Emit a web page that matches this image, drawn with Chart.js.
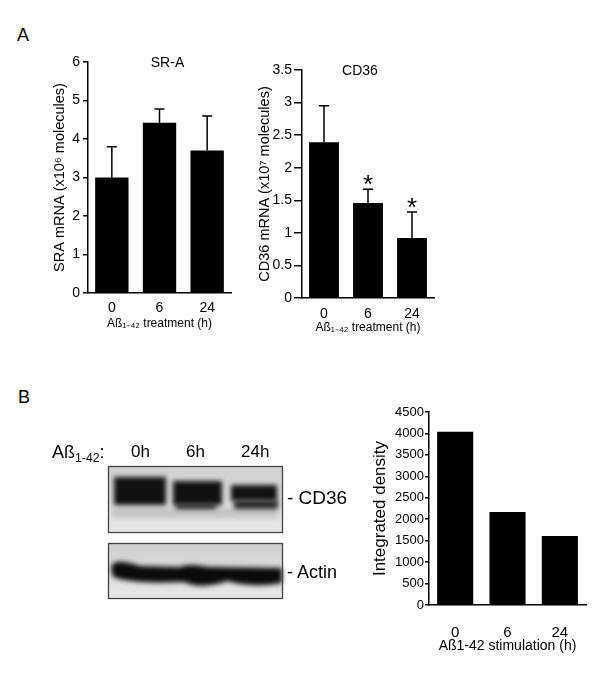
<!DOCTYPE html>
<html>
<head>
<meta charset="utf-8">
<script src="https://cdn.jsdelivr.net/npm/chart.js@4"></script>
<style>
  body { margin: 0; background: #fff; font-family: "Liberation Sans", Arial, sans-serif; }
  #page { position: relative; width: 600px; height: 673px; overflow: hidden; }
  canvas, .txt { position: absolute; }
  .txt { color: #000; white-space: nowrap; line-height: 1; }
  .txt sub { font-size: 0.68em; vertical-align: -0.3em; }
</style>
</head>
<body>
<div id="page">
  <div class="txt" style="left:17px;top:26px;font-size:18px">A</div>
  <div class="txt" style="left:18px;top:388px;font-size:18px">B</div>

  <canvas id="sra" width="250" height="340" style="left:0;top:0"></canvas>
  <canvas id="cd36" width="200" height="340" style="left:250px;top:0"></canvas>
  <canvas id="dens" width="240" height="313" style="left:360px;top:360px"></canvas>

  <canvas id="blot" width="200" height="150" style="left:100px;top:460px"></canvas>
  <div class="txt" style="left:52px;top:443px;font-size:18px">Aß<sub>1-42</sub>:</div>
  <div class="txt" style="left:131px;top:443px;font-size:17px">0h</div>
  <div class="txt" style="left:186px;top:443px;font-size:17px">6h</div>
  <div class="txt" style="left:241px;top:443px;font-size:17px">24h</div>
  <div class="txt" style="left:287px;top:488px;font-size:19px">- CD36</div>
  <div class="txt" style="left:287px;top:563px;font-size:18px">- Actin</div>
</div>
<script>
// time points (h)
const hours = ['0', '6', '24'];

// SR-A mRNA (x10^6 molecules)
const sraMean = [3.0, 4.42, 3.7];
const sraErr = [0.8, 0.36, 0.9];

// CD36 mRNA (x10^7 molecules)
const cd36Mean = [2.39, 1.46, 0.92];
const cd36Err = [0.56, 0.21, 0.4];
const cd36Star = [false, true, true];

// western blot densitometry
const density = [4040, 2170, 1610];

const FONT = '"Liberation Sans", Arial, sans-serif';
Chart.defaults.font.family = FONT;
Chart.defaults.color = '#000';

// error bar caps + asterisks + panel title, all from scale positions
const extras = {
  id: 'extras',
  afterDatasetsDraw(chart, args, opts) {
    let ctx = chart.ctx;
    let meta = chart.getDatasetMeta(0);
    let y = chart.scales.y;
    ctx.save();
    ctx.strokeStyle = '#000';
    ctx.lineWidth = 1.5;
    (opts.err || []).forEach((e, i) => {
      let bar = meta.data[i];
      let top = y.getPixelForValue(opts.mean[i] + e);
      ctx.beginPath();
      ctx.moveTo(bar.x, bar.y);
      ctx.lineTo(bar.x, top);
      ctx.moveTo(bar.x - 5, top);
      ctx.lineTo(bar.x + 5, top);
      ctx.stroke();
      if (opts.star && opts.star[i]) {
        ctx.fillStyle = '#000';
        ctx.font = '26px ' + FONT;
        ctx.textAlign = 'center';
        ctx.textBaseline = 'alphabetic';
        ctx.fillText('*', bar.x, top + 4);
      }
    });
    if (opts.title) {
      let a = chart.chartArea;
      ctx.fillStyle = '#000';
      ctx.font = '14px ' + FONT;
      ctx.textAlign = 'center';
      ctx.textBaseline = 'middle';
      ctx.fillText(opts.title, (a.left + a.right) / 2 + opts.titleDx, a.top + 1);
    }
    ctx.restore();
  }
};

function makeBar(id, values, o) {
  let config = {
    type: 'bar',
    data: {
      labels: hours,
      datasets: [{
        data: values,
        backgroundColor: '#000',
        borderWidth: 0,
        barPercentage: o.barPct,
        categoryPercentage: 1
      }]
    },
    options: {
      responsive: false,
      animation: false,
      layout: { padding: o.pad },
      plugins: { legend: { display: false }, tooltip: { enabled: false }, extras: o.extras },
      scales: {
        x: {
          grid: { display: false, drawTicks: false },
          border: { color: '#000', width: 1.5 },
          ticks: { font: { size: o.xTickSize }, padding: o.xTickPad },
          title: { display: true, text: o.xTitle, font: { size: o.xTitleSize }, padding: 0 },
          afterFit: (s) => { s.height = o.xh; }
        },
        y: {
          min: 0, max: o.max,
          grid: { drawOnChartArea: false, drawTicks: true, tickLength: o.tickLen, color: '#000', lineWidth: 1.5 },
          border: { color: '#000', width: 1.5 },
          ticks: { stepSize: o.step, font: { size: o.tickSize }, padding: o.yTickPad, callback: (v) => String(v) },
          title: { display: true, text: o.yTitle, font: { size: o.yTitleSize }, padding: 0 },
          afterFit: (s) => { s.width = o.yw; }
        }
      }
    },
    plugins: [extras]
  };
  return new Chart(document.getElementById(id), config);
}

makeBar('sra', sraMean, {
  max: 6, step: 1, barPct: 0.7, tickSize: 14, xTickSize: 14, xTitleSize: 12, yTitleSize: 14.5, tickLen: 5,
  xTickPad: 7, yTickPad: 3, xh: 38, yw: 37,
  pad: { top: 62, left: 51, right: 19, bottom: 9 },
  xTitle: 'Aß₁₋₄₂ treatment (h)', yTitle: 'SRA mRNA (x10⁶ molecules)',
  extras: { mean: sraMean, err: sraErr, title: 'SR-A', titleDx: 8 }
});

makeBar('cd36', cd36Mean, {
  max: 3.5, step: 0.5, barPct: 0.68, tickSize: 14, xTickSize: 14, xTitleSize: 12, yTitleSize: 14.5, tickLen: 8,
  xTickPad: 8, yTickPad: 2, xh: 37, yw: 46,
  pad: { top: 70, left: 6, right: 16, bottom: 5 },
  xTitle: 'Aß₁₋₄₂ treatment (h)', yTitle: 'CD36 mRNA (x10⁷ molecules)',
  extras: { mean: cd36Mean, err: cd36Err, star: cd36Star, title: 'CD36', titleDx: -8 }
});

makeBar('dens', density, {
  max: 4500, step: 500, barPct: 0.69, tickSize: 13, xTickSize: 15, xTitleSize: 14, yTitleSize: 17, tickLen: 4,
  xTickPad: 19, yTickPad: 1, xh: 50, yw: 59,
  pad: { top: 52, left: 10, right: 14, bottom: 18 },
  xTitle: 'Aß1-42 stimulation (h)', yTitle: 'Integrated density',
  extras: {}
});

// western blot picture (illustration, not data)
function drawBlot() {
  let ctx = document.getElementById('blot').getContext('2d');
  // boxes in canvas coords (canvas at 100,460)
  let boxes = [[8, 6, 174, 66], [8, 83, 174, 55]];
  boxes.forEach(b => {
    let g = ctx.createLinearGradient(0, b[1], 0, b[1] + b[3]);
    g.addColorStop(0, '#cfcfcf');
    g.addColorStop(1, '#e8e8e8');
    ctx.fillStyle = g;
    ctx.fillRect(b[0], b[1], b[2], b[3]);
  });
  ctx.save();
  ctx.filter = 'blur(2.5px)';
  ctx.fillStyle = '#111';
  // CD36 bands
  ctx.fillRect(14, 17, 52, 28);
  ctx.fillRect(73, 21, 49, 24);
  ctx.fillRect(131, 25, 46, 16);
  ctx.fillStyle = '#2a2a2a';
  ctx.fillRect(134, 40, 44, 9);
  ctx.fillRect(76, 43, 40, 6);
  ctx.fillStyle = 'rgba(0,0,0,0.12)';
  ctx.fillRect(12, 48, 165, 10);
  // actin band
  ctx.fillStyle = '#0a0a0a';
  ctx.beginPath();
  ctx.moveTo(11, 108);
  ctx.bezierCurveTo(12, 99, 25, 101, 40, 106);
  ctx.lineTo(80, 107);
  ctx.bezierCurveTo(90, 103, 100, 106, 110, 107);
  ctx.lineTo(182, 108);
  ctx.lineTo(182, 123);
  ctx.bezierCurveTo(160, 127, 140, 125, 128, 121);
  ctx.bezierCurveTo(110, 127, 95, 127, 84, 122);
  ctx.bezierCurveTo(60, 123, 30, 123, 13, 117);
  ctx.closePath();
  ctx.fill();
  ctx.restore();
  ctx.strokeStyle = '#444';
  ctx.lineWidth = 1.3;
  boxes.forEach(b => ctx.strokeRect(b[0] + 0.5, b[1] + 0.5, b[2], b[3]));
}
drawBlot();
</script>
</body>
</html>
